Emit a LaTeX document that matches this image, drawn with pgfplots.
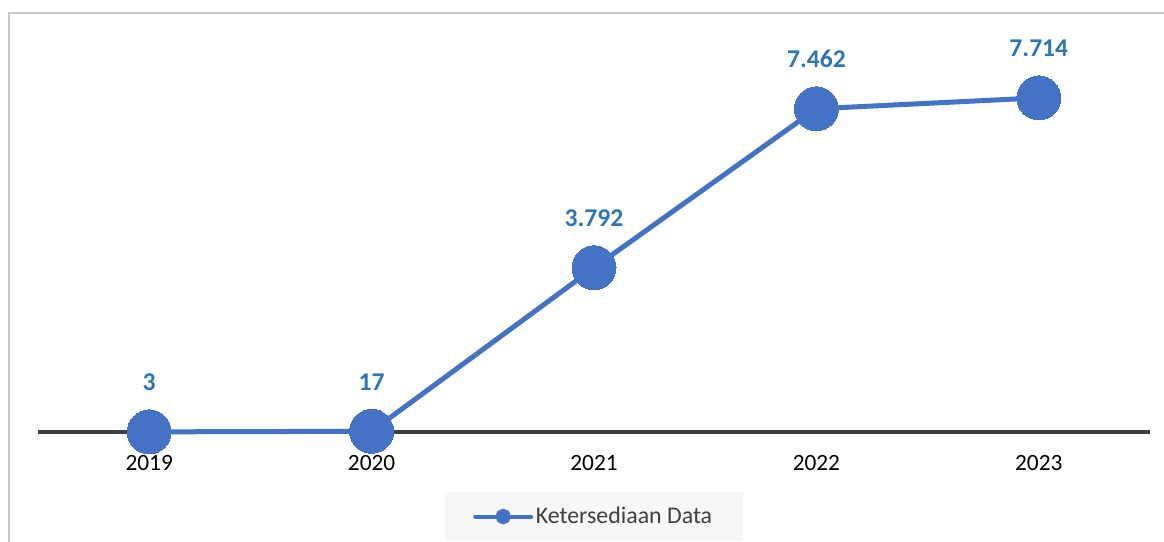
\documentclass[border=0pt]{standalone}
\usepackage{pgfplots}
\pgfplotsset{compat=1.18}
\usepackage{fontspec}
\setmainfont{Carlito}
\definecolor{serie}{HTML}{4472C4}
\definecolor{lbl}{HTML}{2E75B6}
\definecolor{axl}{HTML}{404040}
\definecolor{brd}{HTML}{C8C8C8}
\definecolor{legfill}{HTML}{F7F7F7}
\begin{document}
\fontsize{17.5pt}{21pt}\selectfont
\begin{tikzpicture}
\clip (0,0) rectangle (873pt,-406.5pt);
\draw[color=brd, line width=1.3pt] (6.5pt,-10pt) rectangle (900pt,-450pt);
\begin{axis}[
  scale only axis, width=834pt, height=292.4pt,
  at={(28.5pt,-324pt)}, anchor=south west,
  xmin=-0.5, xmax=4.5, ymin=0, ymax=9000,
  clip=false,
  axis x line=bottom, axis y line=none,
  axis line style={-, color=axl, line width=2.4pt},
  xtick={0,1,2,3,4},
  xticklabels={2019,2020,2021,2022,2023},
  major tick length=0pt,
  xticklabel style={anchor=base, yshift=-28.5pt, text=black, font=\fontsize{17.5pt}{21pt}\selectfont},
  ytick=\empty,
  legend style={at={(0.5,-0.2168)}, anchor=center, fill=legfill, draw=none,
    inner xsep=21pt, inner ysep=8.5pt, text=axl, font=\fontsize{17.9pt}{21pt}\selectfont},
  legend image code/.code={
    \draw[serie, line width=3pt, line cap=round] (0pt,0pt) -- (42pt,0pt);
    \fill[serie] (21pt,0pt) circle (3.9pt);
  },
  nodes near coords,
  point meta=explicit symbolic,
  every node near coord/.append style={font=\fontsize{19.2pt}{22pt}\selectfont\bfseries, text=lbl, anchor=base, inner sep=0pt, yshift=30.75pt},
]
\addplot[serie, line width=3.75pt, mark=*, mark size=16.5pt, mark options={fill=serie, draw=serie, line width=0pt}]
  table[meta=label] {
x y label
0 3 3
1 17 17
2 3792 3.792
3 7462 7.462
4 7714 7.714
};
\addlegendentry{Ketersediaan Data}
\end{axis}
\end{tikzpicture}
\end{document}
